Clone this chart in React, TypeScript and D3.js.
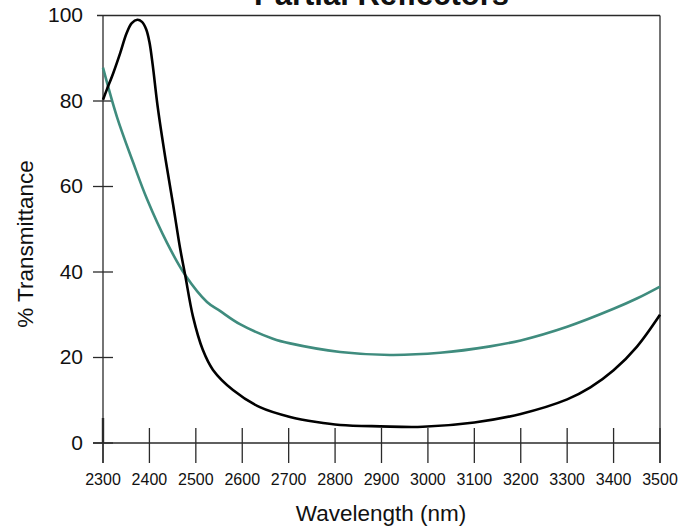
import React from "react";
import * as d3 from "d3";

const title = "Partial Reflectors";
const xTicks = [2300, 2400, 2500, 2600, 2700, 2800, 2900, 3000, 3100, 3200, 3300, 3400, 3500];
const yTicks = [0, 20, 40, 60, 80, 100];

const blackWl = [2300, 2308, 2322, 2337, 2351, 2362, 2374, 2384, 2393, 2400, 2407, 2418, 2435, 2451, 2466, 2477, 2494, 2515, 2537, 2580, 2638, 2703, 2760, 2811, 2897, 2989, 3100, 3200, 3300, 3350, 3400, 3450, 3500];
const blackT = [80.3, 82.6, 86.5, 91.2, 95.9, 98.2, 99.0, 98.5, 96.8, 93.8, 88.5, 78.5, 66.2, 55.8, 45.6, 39.3, 29.5, 21.8, 17.1, 12.4, 8.4, 6.1, 4.9, 4.2, 3.9, 3.8, 4.8, 6.8, 10.2, 13.0, 17.0, 22.5, 30.0];

const tealWl = [2300, 2330, 2365, 2395, 2438, 2477, 2524, 2552, 2595, 2666, 2703, 2811, 2918, 3026, 3134, 3200, 3300, 3400, 3450, 3500];
const tealT = [87.8, 76.3, 65.6, 57.0, 46.8, 39.3, 33.0, 30.9, 27.8, 24.4, 23.3, 21.3, 20.6, 21.1, 22.6, 24.0, 27.2, 31.4, 33.8, 36.6];

const W = 694;
const H = 527;

export default function App() {
  const x = d3.scaleLinear().domain([2300, 3500]).range([103, 660]);
  const y = d3.scaleLinear().domain([0, 100]).range([443, 15.5]);
  const line = d3
    .line<[number, number]>()
    .x((d) => x(d[0]))
    .y((d) => y(d[1]))
    .curve(d3.curveCatmullRom.alpha(0.5));
  const blackData = blackWl.map((w, i) => [w, blackT[i]] as [number, number]);
  const tealData = tealWl.map((w, i) => [w, tealT[i]] as [number, number]);
  const axisColor = "#2a2a2a";
  const font = "Liberation Sans, Arial, Helvetica, sans-serif";

  return (
    <svg
      width={W}
      height={H}
      style={{ position: "absolute", left: 0, top: 0, background: "#fff" }}
      fontFamily={font}
    >
      <rect x={0} y={0} width={W} height={H} fill="#fff" />
      <text x={(x(2300) + x(3500)) / 2} y={5} textAnchor="middle" fontSize={31} fontWeight="bold" fill="#111">
        {title}
      </text>
      <line x1={x(2300)} x2={x(2300)} y1={y(100)} y2={463} stroke={axisColor} strokeWidth={1.3} />
      <line x1={x(2300)} x2={x(2300)} y1={418} y2={y(0)} stroke={axisColor} strokeWidth={2.4} />
      <line x1={x(3500)} x2={x(3500)} y1={y(100)} y2={463} stroke={axisColor} strokeWidth={1.3} />
      <line x1={97} x2={x(3500)} y1={y(100)} y2={y(100)} stroke={axisColor} strokeWidth={1.3} />
      <line x1={93} x2={x(3500)} y1={y(0)} y2={y(0)} stroke={axisColor} strokeWidth={1.3} />
      {xTicks.map((t) => (
        <g key={"x" + t}>
          <line x1={x(t)} x2={x(t)} y1={428} y2={463} stroke={axisColor} strokeWidth={1.3} />
          <text x={x(t)} y={484.5} textAnchor="middle" fontSize={16} fill="#111">
            {t}
          </text>
        </g>
      ))}
      {yTicks.map((t) => (
        <g key={"y" + t}>
          {t < 100 && <line x1={93} x2={113} y1={y(t)} y2={y(t)} stroke={axisColor} strokeWidth={1.3} />}
          <text x={83} y={y(t) + 6.5} textAnchor="end" fontSize={21} fill="#111">
            {t}
          </text>
        </g>
      ))}
      <path d={line(tealData) || ""} fill="none" stroke="#3f8c7e" strokeWidth={2.6} />
      <path d={line(blackData) || ""} fill="none" stroke="#000" strokeWidth={2.6} />
      <text x={381} y={521} textAnchor="middle" fontSize={22.5} fill="#111">
        Wavelength (nm)
      </text>
      <text transform={`translate(33,244) rotate(-90)`} textAnchor="middle" fontSize={22.5} fill="#111">
        % Transmittance
      </text>
    </svg>
  );
}
